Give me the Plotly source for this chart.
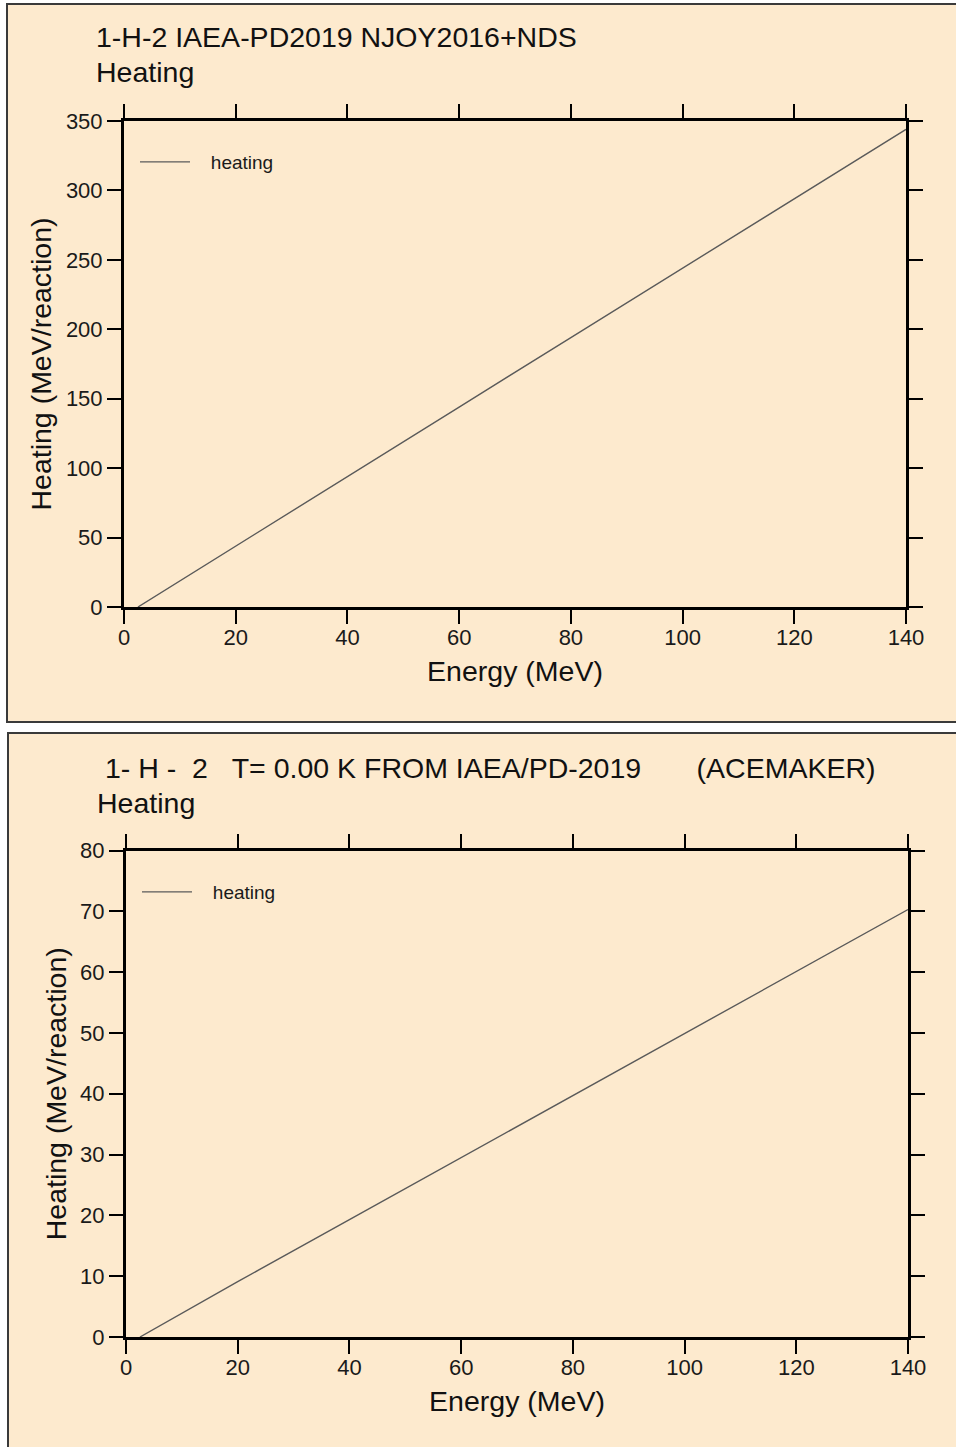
import plotly.graph_objects as go
from plotly.subplots import make_subplots

# ---- data ----
energy = [2.5, 20, 40, 60, 80, 100, 120, 140]
heating_njoy = [0.0, 44.0, 94.0, 144.0, 194.0, 244.0, 294.0, 344.0]
heating_ace = [0.0, 9.1, 19.3, 29.5, 39.7, 49.9, 60.1, 70.3]
x_ticks = [0, 20, 40, 60, 80, 100, 120, 140]
y_ticks_top = [0, 50, 100, 150, 200, 250, 300, 350]
y_ticks_bot = [0, 10, 20, 30, 40, 50, 60, 70, 80]
title_top = "1-H-2 IAEA-PD2019 NJOY2016+NDS"
title_bot = "1- H -\u00a0\u00a02\u00a0\u00a0\u00a0T= 0.00 K FROM IAEA/PD-2019\u00a0\u00a0\u00a0\u00a0\u00a0\u00a0\u00a0(ACEMAKER)"
subtitle = "Heating"
x_title = "Energy (MeV)"
y_title = "Heating (MeV/reaction)"
series_name = "heating"

W, H = 956, 1447
FONT = "Liberation Sans, Arial, sans-serif"
PANEL = "#FDEACE"
PLOT_BG = "#F8E9D6"


def px(x):
    return x / W


def py(y):
    return 1 - y / H


fig = make_subplots(rows=2, cols=1)

fig.add_trace(go.Scatter(x=energy, y=heating_njoy, mode="lines",
                         name="\u00a0\u00a0\u00a0" + series_name,
                         line=dict(color="#5a5a5a", width=1.4), legend="legend"),
              row=1, col=1)
fig.add_trace(go.Scatter(x=energy, y=heating_ace, mode="lines",
                         name="\u00a0\u00a0\u00a0" + series_name,
                         line=dict(color="#5a5a5a", width=1.4), legend="legend2"),
              row=2, col=1)

axis_common = dict(
    automargin=False,
    showline=True, linewidth=3, linecolor="black", mirror="ticks",
    ticks="outside", ticklen=14, tickwidth=1.5, tickcolor="black",
    showgrid=False, zeroline=False,
    tickfont=dict(family=FONT, size=22, color="#1a1a1a"),
)

fig.update_xaxes(**axis_common, range=[0, 140], tickvals=x_ticks, ticklabelstandoff=-5,
                 title=dict(text=x_title, font=dict(family=FONT, size=28.5, color="#111111"), standoff=12))
fig.update_yaxes(**axis_common, ticklabelstandoff=0,
                 title=dict(text=y_title, font=dict(family=FONT, size=28.5, color="#111111"), standoff=6))

fig.update_xaxes(domain=[px(124), px(906)], row=1, col=1)
fig.update_yaxes(domain=[py(607), py(121)], range=[0, 350], tickvals=y_ticks_top, row=1, col=1)
fig.update_xaxes(domain=[px(126), px(908)], row=2, col=1)
fig.update_yaxes(domain=[py(1337), py(850.5)], range=[0, 80], tickvals=y_ticks_bot, row=2, col=1)

shapes = [
    dict(type="rect", xref="paper", yref="paper", x0=px(7), x1=px(W + 10), y0=py(722), y1=py(4),
         fillcolor=PANEL, line=dict(color="#3a3a3a", width=2), layer="below"),
    dict(type="rect", xref="paper", yref="paper", x0=px(8), x1=px(W + 10), y0=py(H + 10), y1=py(733),
         fillcolor=PANEL, line=dict(color="#3a3a3a", width=2), layer="below"),
]

ann_font = dict(family=FONT, size=28.5, color="#111111")
annotations = [
    dict(text=title_top, x=px(94), y=py(19), xref="paper", yref="paper", xanchor="left", yanchor="top",
         showarrow=False, font=ann_font),
    dict(text=subtitle, x=px(94), y=py(54), xref="paper", yref="paper", xanchor="left", yanchor="top",
         showarrow=False, font=ann_font),
    dict(text=title_bot, x=px(103), y=py(750), xref="paper", yref="paper", xanchor="left", yanchor="top",
         showarrow=False, font=ann_font),
    dict(text=subtitle, x=px(95), y=py(785), xref="paper", yref="paper", xanchor="left", yanchor="top",
         showarrow=False, font=ann_font),
]

legend_common = dict(bgcolor="rgba(0,0,0,0)", borderwidth=0, xanchor="left", yanchor="middle",
                     font=dict(family=FONT, size=19, color="#1a1a1a"), itemwidth=50)

fig.update_layout(
    width=W, height=H, margin=dict(l=0, r=0, t=0, b=0, pad=0, autoexpand=False),
    paper_bgcolor="white", plot_bgcolor=PLOT_BG,
    shapes=shapes, annotations=annotations,
    showlegend=True,
    legend=dict(**legend_common, x=px(135), y=py(162)),
    legend2=dict(**legend_common, x=px(137), y=py(892)),
)

fig.write_html(
    "out.html",
    config={"displayModeBar": False},
    post_script=(
        "document.documentElement.style.margin='0px';"
        "document.body.style.margin='0px';"
        "document.documentElement.style.overflow='hidden';"
    ),
)
